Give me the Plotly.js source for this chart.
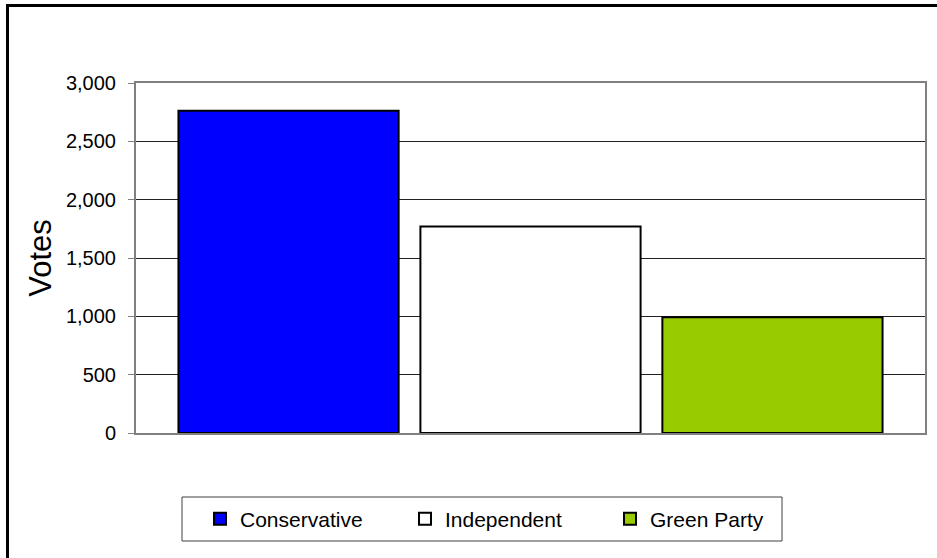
<!DOCTYPE html>
<html>
<head>
<meta charset="utf-8">
<script src="https://cdn.plot.ly/plotly-3.0.1.min.js"></script>
<style>
  html, body { margin: 0; padding: 0; background: #ffffff; }
  #chart { width: 937px; height: 558px; }
</style>
</head>
<body>
<div id="chart"></div>
<script>
// ---- data ----
const seriesNames = ["Conservative", "Independent", "Green Party"];
const seriesValues = [2763, 1770, 992];
const seriesColors = ["#0000FF", "#FFFFFF", "#99CC00"];
const category = ["Votes"];
const yTickValues = [0, 500, 1000, 1500, 2000, 2500, 3000];
const yAxisTitle = "Votes";

const traces = seriesNames.map((name, i) => ({
  type: "bar",
  name: name,
  x: category,
  y: [seriesValues[i]],
  marker: { color: seriesColors[i], line: { color: "#000000", width: 2 } },
  hoverinfo: "name+y"
}));

// plot area in pixels: x 136..925, y 83..433
const L = 136, R = 925, T = 83, B = 433;
const px = v => (v - L) / (R - L);
const py = v => (B - v) / (B - T);

const font = "Liberation Sans, Arial, Helvetica, sans-serif";

const layout = {
  width: 937,
  height: 558,
  margin: { l: L, r: 937 - R, t: T, b: 558 - B, pad: 0 },
  paper_bgcolor: "#ffffff",
  plot_bgcolor: "#ffffff",
  font: { family: font, color: "#000000", size: 20 },
  barmode: "group",
  bargap: 0.08,
  bargroupgap: 0.09,
  showlegend: true,
  legend: {
    orientation: "h",
    x: px(200),
    xanchor: "left",
    y: py(519),
    yanchor: "middle",
    font: { family: font, size: 21, color: "#000000" },
    bgcolor: "rgba(0,0,0,0)",
    borderwidth: 0,
    entrywidth: 160,
    entrywidthmode: "pixels"
  },
  xaxis: {
    type: "category",
    range: [-0.5, 0.5],
    showticklabels: false,
    ticks: "",
    showgrid: false,
    zeroline: false,
    showline: true,
    mirror: true,
    linecolor: "#808080",
    linewidth: 2,
    fixedrange: true
  },
  yaxis: {
    range: [0, 3000],
    tickvals: yTickValues,
    tickformat: ",d",
    ticks: "outside",
    ticklen: 6,
    tickcolor: "#808080",
    tickwidth: 1,
    ticklabelstandoff: 8,
    tickfont: { family: font, size: 20, color: "#000000" },
    showgrid: true,
    gridcolor: "#222222",
    gridwidth: 1,
    zeroline: false,
    showline: true,
    mirror: true,
    linecolor: "#808080",
    linewidth: 2,
    title: { text: yAxisTitle, font: { family: font, size: 31, color: "#000000" }, standoff: 5 },
    fixedrange: true
  },
  shapes: [
    // outer chart frame (left and top visible)
    { type: "line", xref: "paper", yref: "paper", x0: px(7.5), x1: px(7.5), y0: py(570), y1: py(5.5),
      line: { color: "#000000", width: 3 } },
    { type: "line", xref: "paper", yref: "paper", x0: px(6), x1: px(945), y0: py(5.5), y1: py(5.5),
      line: { color: "#000000", width: 3 } },
    // legend box
    { type: "rect", xref: "paper", yref: "paper", x0: px(182), x1: px(782), y0: py(541), y1: py(497),
      line: { color: "#404040", width: 1 }, fillcolor: "rgba(0,0,0,0)" }
  ]
};

Plotly.newPlot("chart", traces, layout, { displayModeBar: false, staticPlot: true });
</script>
</body>
</html>
